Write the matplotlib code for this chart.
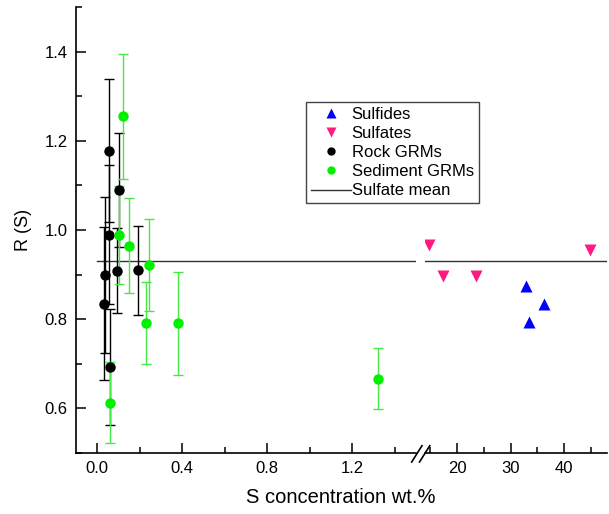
import numpy as np
import matplotlib.pyplot as plt
from matplotlib.lines import Line2D
from matplotlib.ticker import MultipleLocator

plt.rcParams['font.family'] = ['Liberation Sans', 'DejaVu Sans']

# Rock GRMs (black)
rock_x = [0.053, 0.104, 0.053, 0.036, 0.092, 0.193, 0.031, 0.058]
rock_y = [1.178, 1.089, 0.989, 0.900, 0.909, 0.910, 0.835, 0.693]
rock_err = [0.160, 0.128, 0.156, 0.175, 0.095, 0.100, 0.172, 0.130]

# Sediment GRMs (green)
sed_x = [0.120, 0.100, 0.151, 0.245, 0.229, 0.379, 0.062, 1.319]
sed_y = [1.255, 0.989, 0.965, 0.921, 0.792, 0.791, 0.613, 0.667]
sed_err = [0.140, 0.110, 0.107, 0.103, 0.092, 0.115, 0.090, 0.068]

# pure minerals (right side of the break)
sulfide_x = [32.9, 36.3, 33.5]
sulfide_y = [0.874, 0.833, 0.793]
sulfate_x = [14.8, 17.4, 23.6, 44.9]
sulfate_y = [0.967, 0.896, 0.896, 0.956]

sulfate_mean = 0.93
mean_left_span = [0.0, 1.5]
mean_right_span = [14, 48]

W, H = 609, 514
fig = plt.figure(figsize=(W / 100, H / 100), dpi=100)
ax1 = fig.add_axes([76 / W, 61 / H, 340 / W, 446 / H])
ax2 = fig.add_axes([425 / W, 61 / H, 182 / W, 446 / H], sharey=ax1)

green = '#00f000'
green_bar = '#45e845'
pink = '#ff1a80'

# error bars first, markers on top
ax1.errorbar(rock_x, rock_y, yerr=rock_err, fmt='none', ecolor='black',
             elinewidth=1, capsize=3.5, capthick=1, zorder=2)
ax1.errorbar(sed_x, sed_y, yerr=sed_err, fmt='none', ecolor=green_bar,
             elinewidth=1, capsize=3.5, capthick=1, zorder=2)
h_rock, = ax1.plot(rock_x, rock_y, 'o', color='black', ms=7.5, mec='none', zorder=3)
h_sed, = ax1.plot(sed_x, sed_y, 'o', color=green, ms=7.5, mec='none', zorder=3)

h_mean, = ax1.plot(mean_left_span, [sulfate_mean] * 2, color='#333333', lw=1.0, zorder=1)
ax2.plot(mean_right_span, [sulfate_mean] * 2, color='#333333', lw=1.0, zorder=1)

h_sulfide, = ax2.plot(sulfide_x, sulfide_y, '^', color='#0000ff', ms=8.5, mec='none')
h_sulfate, = ax2.plot(sulfate_x, sulfate_y, 'v', color=pink, ms=8.5, mec='none')

ax1.set_xlim(-0.1, 1.5)
ax2.set_xlim(14, 48)
ax1.set_ylim(0.5, 1.5)

ax1.xaxis.set_major_locator(MultipleLocator(0.4))
ax1.xaxis.set_minor_locator(MultipleLocator(0.2))
ax1.yaxis.set_major_locator(MultipleLocator(0.2))
ax1.yaxis.set_minor_locator(MultipleLocator(0.1))
ax1.set_yticks([0.6, 0.8, 1.0, 1.2, 1.4])
ax2.xaxis.set_major_locator(MultipleLocator(10))
ax2.xaxis.set_minor_locator(MultipleLocator(5))

for ax in (ax1, ax2):
    ax.spines['top'].set_visible(False)
    ax.spines['right'].set_visible(False)
    ax.spines['bottom'].set_linewidth(1.2)
    ax.tick_params(which='both', direction='in', width=1.1, labelsize=12)
    ax.tick_params(which='major', length=7)
    ax.tick_params(which='minor', length=4)
    ax.tick_params(axis='x', pad=6)
    ax.set_facecolor('none')

ax1.spines['left'].set_linewidth(1.2)
ax1.tick_params(axis='y', pad=6)
ax2.spines['left'].set_visible(False)
ax2.tick_params(axis='y', which='both', left=False, labelleft=False)

ax1.set_ylabel('R (S)', fontsize=13, labelpad=9)
fig.text(0.56, 0.033, 'S concentration wt.%', fontsize=14.5, ha='center', va='center')

# axis break marks
for x0 in (411.7, 419.5):
    fig.add_artist(Line2D([x0 / W, (x0 + 10.3) / W], [(H - 462) / H, (H - 445.7) / H],
                          color='black', lw=1.2))

leg = ax1.legend([h_sulfide, h_sulfate, h_rock, h_sed, h_mean],
                 ['Sulfides', 'Sulfates', 'Rock GRMs', 'Sediment GRMs', 'Sulfate mean'],
                 loc='upper left', bbox_to_anchor=(305.7 / W, 1 - 101.7 / H),
                 bbox_transform=fig.transFigure, fontsize=12, frameon=True,
                 fancybox=False, edgecolor='#444444', framealpha=1,
                 handlelength=2.4, handletextpad=0.05, borderpad=0.3,
                 labelspacing=0.25, borderaxespad=0, markerscale=0.8)
leg.get_frame().set_linewidth(1.0)

fig.savefig('out.png', dpi=100)
